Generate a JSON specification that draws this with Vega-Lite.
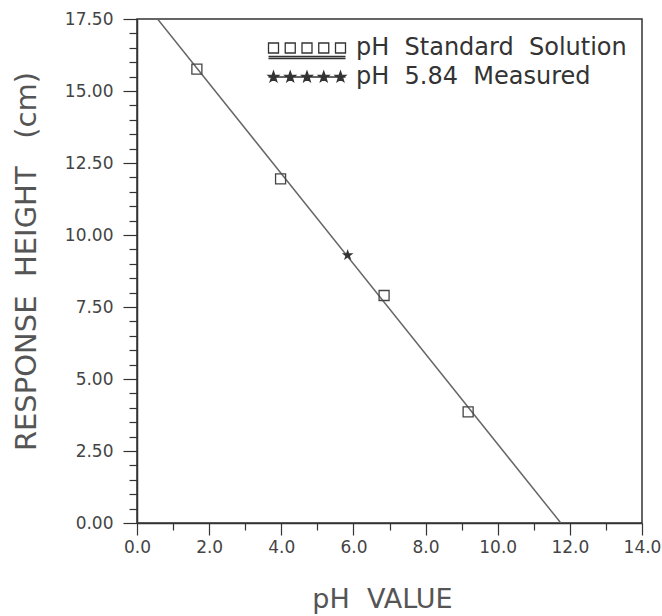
{
  "$schema": "https://vega.github.io/schema/vega-lite/v6.json",
  "width": 505,
  "height": 504,
  "autosize": "none",
  "padding": {"left": 137, "top": 19, "right": 20, "bottom": 93},
  "background": "white",
  "config": {
    "font": "DejaVu Sans",
    "view": {"stroke": "#333", "strokeWidth": 1.5},
    "axis": {"grid": false, "labelFlush": false, "labelOverlap": false, "tickCount": 100, "domainColor": "#333", "domainWidth": 1.5, "tickColor": "#333", "tickWidth": 1.2, "labelColor": "#444", "labelFontSize": 17, "labelFont": "DejaVu Sans", "titleFont": "DejaVu Sans", "titleColor": "#555", "titleFontWeight": "normal"}
  },
  "data": {"values": [
    {"pH": 1.66, "height": 15.76, "series": "pH\u00a0 Standard\u00a0 Solution"},
    {"pH": 3.98, "height": 11.95, "series": "pH\u00a0 Standard\u00a0 Solution"},
    {"pH": 6.85, "height": 7.9, "series": "pH\u00a0 Standard\u00a0 Solution"},
    {"pH": 9.18, "height": 3.86, "series": "pH\u00a0 Standard\u00a0 Solution"},
    {"pH": 5.84, "height": 9.3, "series": "pH\u00a0 5.84\u00a0 Measured"}
  ]},
  "layer": [
    {
      "data": {"values": [{"pH": 0.57, "height": 17.5}, {"pH": 11.75, "height": 0}]},
      "mark": {"type": "line", "color": "#666", "strokeWidth": 1.5, "clip": true},
      "encoding": {
        "x": {"field": "pH", "type": "quantitative", "scale": {"domain": [0, 14], "nice": false},
          "axis": {"values": [0,1,2,3,4,5,6,7,8,9,10,11,12,13,14], "tickCount": 100,
            "labelExpr": "datum.value % 2 === 0 ? format(datum.value, '.1f') : ''",
            "tickSize": {"condition": {"test": "datum.value % 2 === 0", "value": 12}, "value": 7},
            "labelPadding": 4,
            "title": "pH\u00a0 VALUE", "titleFontSize": 27, "titleX": 245, "titleY": 84, "titleBaseline": "alphabetic"}},
        "y": {"field": "height", "type": "quantitative", "scale": {"domain": [0, 17.5], "nice": false},
          "axis": {"values": [0,0.5,1,1.5,2,2.5,3,3.5,4,4.5,5,5.5,6,6.5,7,7.5,8,8.5,9,9.5,10,10.5,11,11.5,12,12.5,13,13.5,14,14.5,15,15.5,16,16.5,17,17.5], "tickCount": 100,
            "labelExpr": "datum.value % 2.5 === 0 ? format(datum.value, '.2f') : ''",
            "tickSize": {"condition": {"test": "datum.value % 2.5 === 0", "value": 14}, "value": 8},
            "labelPadding": 10,
            "title": "RESPONSE\u00a0 HEIGHT\u00a0 \u00a0(cm)", "titleFontSize": 29, "titleX": -102, "titleY": 242, "titleBaseline": "alphabetic"}}
      }
    },
    {
      "mark": {"type": "point", "size": 0, "strokeWidth": 0, "opacity": 1},
      "encoding": {
        "x": {"field": "pH", "type": "quantitative"},
        "y": {"field": "height", "type": "quantitative"},
        "shape": {"field": "series", "type": "nominal",
          "scale": {"domain": ["pH\u00a0 Standard\u00a0 Solution", "pH\u00a0 5.84\u00a0 Measured"],
            "range": [
              "M-7.7,-1H-5.7V1H-7.7Z M-4.35,-1H-2.35V1H-4.35Z M-1,-1H1V1H-1Z M2.35,-1H4.35V1H2.35Z M5.7,-1H7.7V1H5.7Z M-7.7,1.7H7.7 M-7.7,2.1H7.7",
              "M-6.7,-1.1L-6.441,-0.356L-5.654,-0.34L-6.282,0.136L-6.053,0.89L-6.7,0.44L-7.347,0.89L-7.118,0.136L-7.746,-0.34L-6.959,-0.356Z M-3.35,-1.1L-3.091,-0.356L-2.304,-0.34L-2.932,0.136L-2.703,0.89L-3.35,0.44L-3.997,0.89L-3.768,0.136L-4.396,-0.34L-3.609,-0.356Z M0,-1.1L0.259,-0.356L1.046,-0.34L0.418,0.136L0.647,0.89L0,0.44L-0.647,0.89L-0.418,0.136L-1.046,-0.34L-0.259,-0.356Z M3.35,-1.1L3.609,-0.356L4.396,-0.34L3.768,0.136L3.997,0.89L3.35,0.44L2.703,0.89L2.932,0.136L2.304,-0.34L3.091,-0.356Z M6.7,-1.1L6.959,-0.356L7.746,-0.34L7.118,0.136L7.347,0.89L6.7,0.44L6.053,0.89L6.282,0.136L5.654,-0.34L6.441,-0.356Z M-7.7,0H7.7"
            ]},
          "legend": {"orient": "none", "legendX": 158, "legendY": 17, "title": null, "padding": 0,
            "labelFontSize": 24, "labelColor": "#333", "labelFont": "DejaVu Sans", "labelLimit": 0, "labelOffset": 37,
            "symbolSize": 100, "rowPadding": 3,
            "encoding": {"symbols": {
              "size": {"value": 100},
              "fill": {"value": {"expr": "datum.value === 'pH\u00a0 Standard\u00a0 Solution' ? 'transparent' : '#333'"}},
              "stroke": {"value": "#333"},
              "strokeWidth": {"value": 1.3},
              "opacity": {"value": 1}
            }}}}
      }
    },
    {
      "transform": [{"filter": "datum.series === 'pH\u00a0 Standard\u00a0 Solution'"}],
      "mark": {"type": "point", "shape": "square", "filled": false, "color": "#444", "strokeWidth": 1.3, "opacity": 1, "size": 100},
      "encoding": {
        "x": {"field": "pH", "type": "quantitative"},
        "y": {"field": "height", "type": "quantitative"}
      }
    },
    {
      "transform": [{"filter": "datum.series === 'pH\u00a0 5.84\u00a0 Measured'"}],
      "mark": {"type": "point", "shape": "M0,-1L0.235,-0.324L0.951,-0.309L0.38,0.124L0.588,0.809L0,0.4L-0.588,0.809L-0.38,0.124L-0.951,-0.309L-0.235,-0.324Z", "filled": true, "color": "#333", "strokeWidth": 1, "opacity": 1, "size": 150},
      "encoding": {
        "x": {"field": "pH", "type": "quantitative"},
        "y": {"field": "height", "type": "quantitative"}
      }
    }
  ]
}
